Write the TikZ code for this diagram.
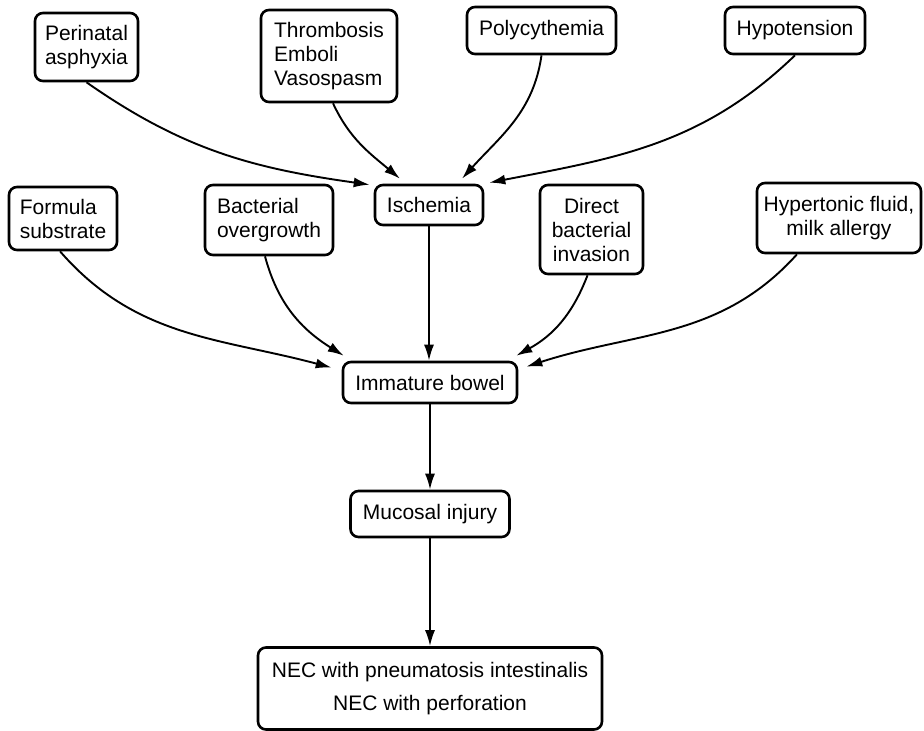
\documentclass[tikz,border=0pt]{standalone}
\usepackage{fontspec}
\setmainfont{Liberation Sans}
\usetikzlibrary{arrows.meta,calc}
\begin{document}
\begin{tikzpicture}[x=1pt,y=1pt,
  box/.style={draw, line width=2.6pt, rounded corners=8pt, inner sep=0pt, font=\fontsize{21}{24}\selectfont},
  arr/.style={line width=1.9pt, -{Latex[length=16pt,width=10pt]}}]
\useasboundingbox (0,0) rectangle (924,-731);
\node[box, minimum width=103pt, minimum height=68pt, align=left] (pa) at (86.5,-47) {Perinatal\\asphyxia};
\node[box, minimum width=136pt, minimum height=92pt, align=left] (tev) at (329,-56) {Thrombosis\\Emboli\\Vasospasm};
\node[box, minimum width=149pt, minimum height=47pt] (poly) at (541.5,-30.5) {Polycythemia};
\node[box, minimum width=140pt, minimum height=47pt] (hypo) at (795,-30.5) {Hypotension};
\node[box, minimum width=108pt, minimum height=40pt] (isch) at (429,-205) {Ischemia};
\node[box, minimum width=108pt, minimum height=63pt, align=left] (form) at (63,-218.5) {Formula\\substrate};
\node[box, minimum width=128pt, minimum height=70pt, align=left] (bact) at (269,-220) {Bacterial\\overgrowth};
\node[box, minimum width=103pt, minimum height=89pt, align=center] (dir) at (591.5,-229.5) {Direct\\bacterial\\invasion};
\node[box, minimum width=164pt, minimum height=70pt, align=center] (hyper) at (839,-218) {Hypertonic fluid,\\milk allergy};
\node[box, minimum width=174pt, minimum height=41pt] (bowel) at (430,-382.5) {Immature bowel};
\node[box, minimum width=159pt, minimum height=46pt] (muc) at (430,-514) {Mucosal injury};
\node[box, minimum width=344pt, minimum height=82pt, align=center, font=\fontsize{21}{33}\selectfont] (nec) at (430,-688.5) {NEC with pneumatosis intestinalis\\NEC with perforation};

\draw[arr] (pa.south) to[out=-35,in=172] ($(isch.north west)+(-4,-1)$);
\draw[arr] ($(tev.south)+(4,0)$) to[out=-65,in=140] ($(isch.north)+(-29,5)$);
\draw[arr] (poly.south) to[out=-98,in=48] ($(isch.north)+(33,5)$);
\draw[arr] (hypo.south) to[out=-136,in=11] ($(isch.north east)+(5,1)$);
\draw[arr] (isch.south) -- (isch.south |- bowel.north);
\draw[arr] ($(form.south)+(-3,0)$) to[out=-49,in=165] ($(bowel.north west)+(-10,-7)$);
\draw[arr] ($(bact.south)+(-4,0)$) to[out=-75,in=148] ($(bowel.north west)+(2,5)$);
\draw[arr] ($(dir.south)+(-4,0)$) to[out=-111,in=29] ($(bowel.north east)+(-2,5)$);
\draw[arr] ($(hyper.south)+(-42,0)$) to[out=-132,in=18] ($(bowel.north east)+(8,-6)$);
\draw[arr] (bowel.south) -- (bowel.south |- muc.north);
\draw[arr] (muc.south) -- (muc.south |- nec.north);
\end{tikzpicture}
\end{document}
